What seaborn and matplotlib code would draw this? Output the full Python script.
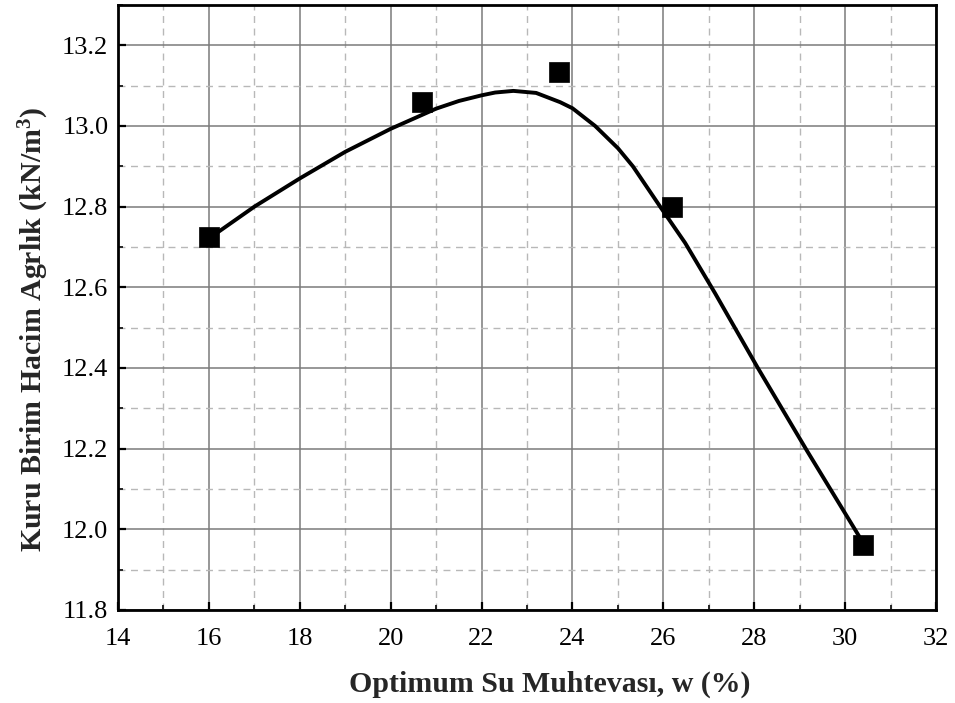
import numpy as np
import pandas as pd
import seaborn as sns
import matplotlib.pyplot as plt
from matplotlib.ticker import MultipleLocator

# Measured compaction points
water_content = [16.0, 20.7, 23.7, 26.2, 30.4]
dry_unit_weight = [12.725, 13.06, 13.135, 12.80, 11.96]

# Fitted compaction curve
curve_w = [16.0, 17.0, 18.0, 19.0, 20.0, 21.0, 21.5, 22.0, 22.3, 22.7,
           23.2, 23.73, 24.0, 24.5, 25.0, 25.33, 25.93, 26.48, 27.14,
           28.08, 29.16, 30.35]
curve_gamma = [12.721, 12.800, 12.870, 12.936, 12.993, 13.043, 13.062,
               13.076, 13.083, 13.087, 13.082, 13.059, 13.044, 13.0,
               12.945, 12.9, 12.8, 12.71, 12.585, 12.40, 12.195, 11.975]

x_ticks = [14, 16, 18, 20, 22, 24, 26, 28, 30, 32]
y_ticks = [11.8, 12.0, 12.2, 12.4, 12.6, 12.8, 13.0, 13.2]

points = pd.DataFrame({"w": water_content, "gamma": dry_unit_weight})
curve = pd.DataFrame({"w": curve_w, "gamma": curve_gamma})

sns.set_theme(style="white")
plt.rcParams["font.family"] = ["Liberation Serif", "DejaVu Serif"]
plt.rcParams["mathtext.fontset"] = "custom"
plt.rcParams["mathtext.rm"] = "Liberation Serif"
plt.rcParams["mathtext.bf"] = "Liberation Serif:bold"

fig = plt.figure(figsize=(9.55, 7.03), dpi=100)
ax = fig.add_axes([0.1236, 0.1323, 0.8565, 0.8606])

line_kw = dict(solid_capstyle="round", solid_joinstyle="round")
sns.lineplot(data=curve, x="w", y="gamma", ax=ax, color="black",
             linewidth=2.8, sort=False, zorder=3, **line_kw)
sns.scatterplot(data=points, x="w", y="gamma", ax=ax, marker="s", s=210,
                color="black", edgecolor="black", linewidth=0.5, zorder=4)

ax.set_xlim(14, 32)
ax.set_ylim(11.8, 13.3)
ax.set_xticks(x_ticks)
ax.set_yticks(y_ticks)
ax.set_yticklabels([f"{v:.1f}" for v in y_ticks])
ax.set_xticklabels([str(v) for v in x_ticks])
ax.xaxis.set_minor_locator(MultipleLocator(1))
ax.yaxis.set_minor_locator(MultipleLocator(0.1))

ax.grid(which="major", color="#7a7a7a", linewidth=1.1, linestyle="-")
ax.grid(which="minor", color="#b8b8b8", linewidth=1.0, linestyle=(0, (5, 4)))
ax.set_axisbelow(True)

ax.tick_params(which="major", direction="in", length=6, width=1.6,
               labelsize=19, colors="black", bottom=True, left=True)
ax.tick_params(axis="x", which="major", pad=13)
ax.tick_params(axis="y", which="major", pad=7)
ax.tick_params(which="minor", direction="in", length=3.5, width=1.4,
               bottom=True, left=True)
for side in ["left", "bottom", "right", "top"]:
    ax.spines[side].set_color("black")
    ax.spines[side].set_linewidth(2.0)

ax.set_xlabel("Optimum Su Muhtevası, w (%)", fontsize=21.5, fontweight="bold",
              labelpad=15)
ax.set_ylabel(r"Kuru Birim Hacim Agrlık (kN/m$\mathbf{^3}$)", fontsize=21.5,
              fontweight="bold", labelpad=8)
ax.xaxis.label.set_x(0.528)
ax.yaxis.label.set_y(0.464)

fig.savefig("out.png", dpi=100)
